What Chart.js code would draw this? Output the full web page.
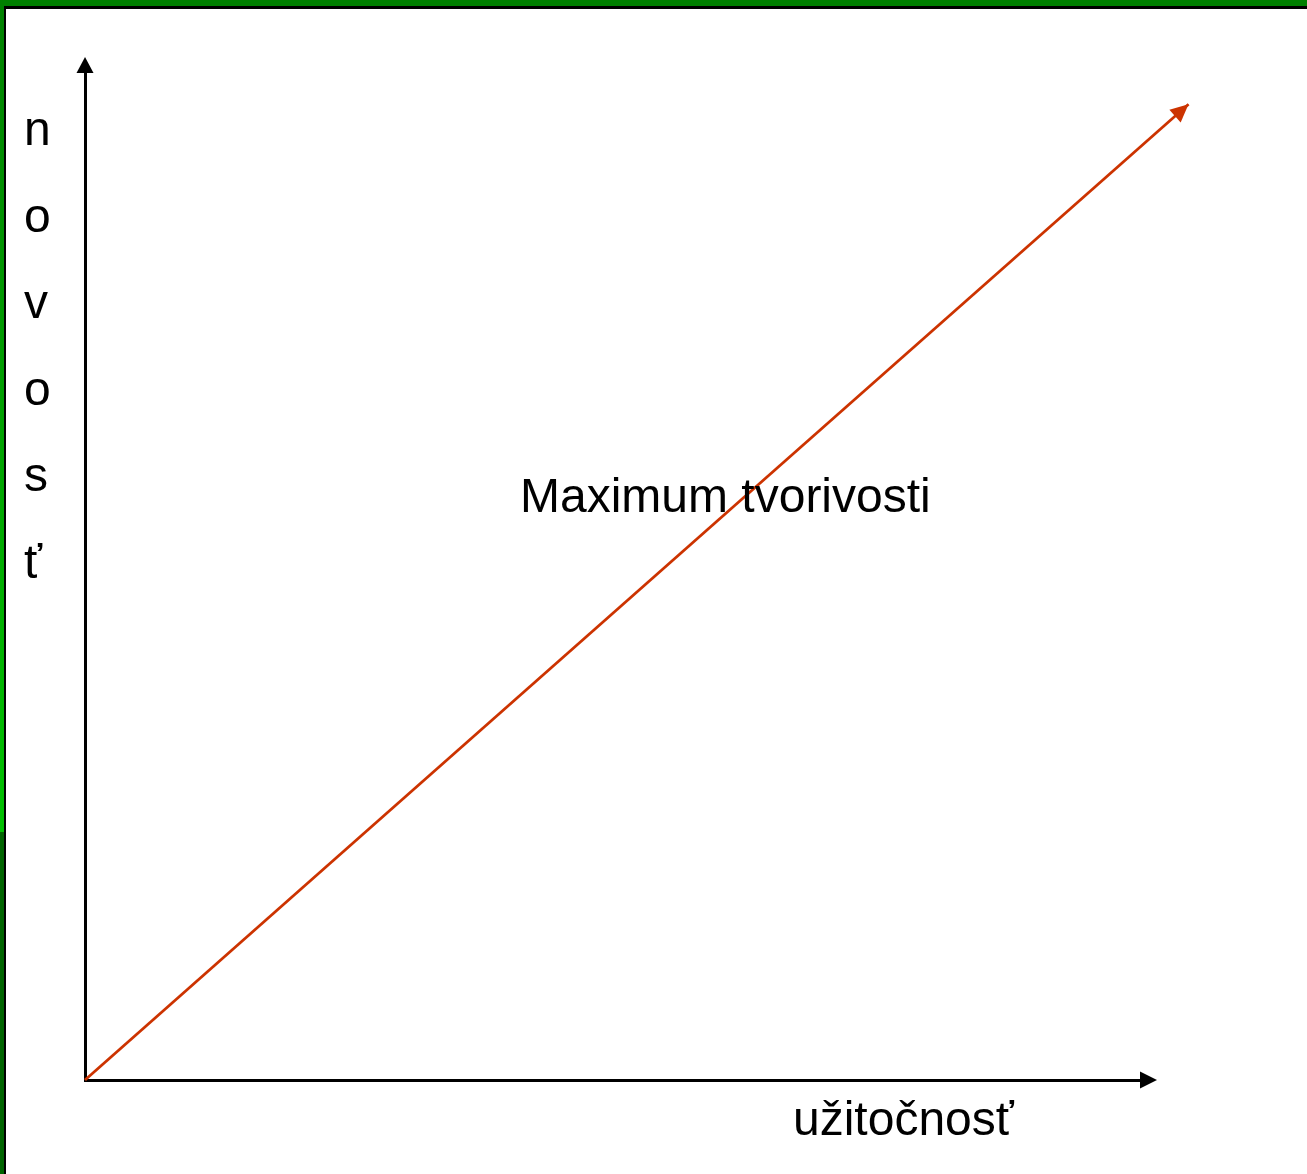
<!DOCTYPE html>
<html>
<head>
<meta charset="utf-8">
<script src="https://cdn.jsdelivr.net/npm/chart.js@4.4.0/dist/chart.umd.min.js"></script>
<style>
  html, body { margin: 0; padding: 0; background: #fff; }
  #wrap { position: relative; width: 1307px; height: 1174px; overflow: hidden; }
  #topBand { position: absolute; left: 0; top: 0; width: 1307px; height: 6px; background: #008000; }
  #topLine { position: absolute; left: 4px; top: 6px; width: 1303px; height: 3px; background: #000; }
  #leftBand { position: absolute; left: 0; top: 0; width: 4px; height: 1174px;
    background: linear-gradient(to bottom, #008000 0px, #00c000 832px, #006400 832px, #006400 1174px); }
  #leftLine { position: absolute; left: 4px; top: 6px; width: 2px; height: 1168px; background: #000; }
  canvas { position: absolute; left: 0; top: 0; }
</style>
</head>
<body>
<div id="wrap">
  <canvas id="chart" width="1307" height="1174"></canvas>
  <div id="topBand"></div>
  <div id="leftBand"></div>
  <div id="topLine"></div>
  <div id="leftLine"></div>
</div>
<script>
// values (axes run 0..100, arrow overshoots a little)
const lineX = [0, 104.5];
const lineY = [0, 96.8];
const yTitle = ['n', 'o', 'v', 'o', 's', 'ť'];
const xTitle = 'užitočnosť';
const noteText = 'Maximum tvorivosti';

const FONT = '48px "Liberation Sans", Arial, sans-serif';
const RED = '#cc3300';

function arrowHead(ctx, tipX, tipY, angle, len, half, color) {
    ctx.save();
    ctx.translate(tipX, tipY);
    ctx.rotate(angle);
    ctx.fillStyle = color;
    ctx.beginPath();
    ctx.moveTo(0, 0);
    ctx.lineTo(-len, -half);
    ctx.lineTo(-len, half);
    ctx.closePath();
    ctx.fill();
    ctx.restore();
}

const decorations = {
    id: 'decorations',
    afterDraw(chart) {
        const ctx = chart.ctx;
        const xs = chart.scales.x;
        const ys = chart.scales.y;
        const x0 = xs.getPixelForValue(0);
        const y0 = ys.getPixelForValue(0);

        // axis arrows
        arrowHead(ctx, xs.right + 16, y0, 0, 17, 8.5, '#000');
        arrowHead(ctx, x0, ys.top - 15, -Math.PI / 2, 16, 8.5, '#000');

        // arrow on the red line
        const ex = xs.getPixelForValue(lineX[1]);
        const ey = ys.getPixelForValue(lineY[1]);
        const ang = Math.atan2(ey - ys.getPixelForValue(lineY[0]), ex - xs.getPixelForValue(lineX[0]));
        arrowHead(ctx, ex, ey, ang, 18, 8.5, RED);

        // texts
        ctx.save();
        ctx.fillStyle = '#000';
        ctx.font = FONT;
        ctx.textBaseline = 'alphabetic';
        ctx.textAlign = 'left';
        yTitle.forEach(function (ch, i) {
            ctx.fillText(ch, 24, 145 + i * 86.5);
        });
        ctx.fillText(xTitle, 793, 1135);
        ctx.fillText(noteText, 520, 512);
        ctx.restore();
    }
};

const ctx = document.getElementById('chart').getContext('2d');
const chart = new Chart(ctx, {
    type: 'scatter',
    data: {
        datasets: [{
            data: lineX.map(function (v, i) { return {x: v, y: lineY[i]}; }),
            showLine: true,
            borderColor: RED,
            borderWidth: 2.8,
            pointRadius: 0,
            clip: false
        }]
    },
    options: {
        responsive: false,
        animation: false,
        layout: {
            padding: {left: 85, right: 166, top: 72, bottom: 94}
        },
        plugins: {
            legend: {display: false},
            tooltip: {enabled: false}
        },
        scales: {
            x: {
                type: 'linear',
                min: 0,
                max: 100,
                ticks: {display: false},
                grid: {display: false, drawTicks: false},
                border: {display: true, color: '#000', width: 3}
            },
            y: {
                type: 'linear',
                min: 0,
                max: 100,
                ticks: {display: false},
                grid: {display: false, drawTicks: false},
                border: {display: true, color: '#000', width: 3}
            }
        }
    },
    plugins: [decorations]
});
</script>
</body>
</html>
